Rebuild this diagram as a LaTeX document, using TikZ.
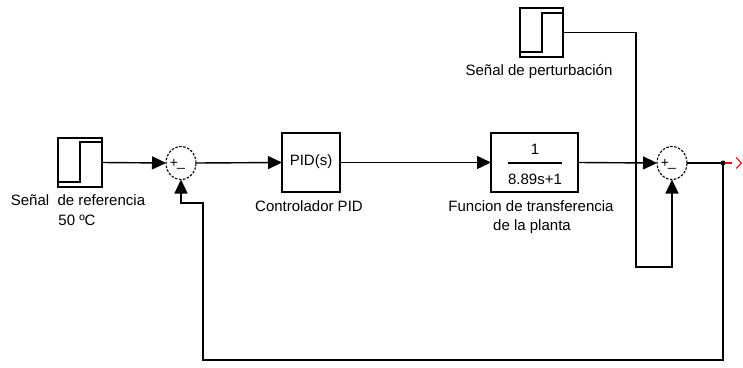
\documentclass[tikz,border=0pt]{standalone}
\usepackage{fontspec}
\setmainfont{Liberation Sans}
\usetikzlibrary{arrows.meta, shapes.geometric}
\tikzset{
	blk/.style={draw, line width=1.4pt, inner sep=0pt, outer sep=0pt},
	sumnode/.style={ellipse, draw, line width=1.1pt, dash pattern=on 2.5pt off 1.5pt, minimum width=30pt, minimum height=33pt, inner sep=0pt, outer sep=0pt},
	arr/.style={line width=1.4pt, -{Triangle[length=14pt, width=13pt]}},
	wire/.style={line width=1.4pt},
	lbl/.style={font=\fontsize{15}{18}\selectfont, inner sep=0pt},
	sgn/.style={font=\fontsize{14}{14}\selectfont, inner sep=0pt}
}
\begin{document}
\begin{tikzpicture}[x=1pt, y=-1pt]
	\useasboundingbox (0,0) rectangle (743,367);
	% bloques
	\node[blk, minimum width=44pt, minimum height=49pt] (ref) at (80,162.5) {};
	\node[blk, minimum width=43pt, minimum height=49pt] (pert) at (541.5,32.5) {};
	\node[blk, minimum width=58pt, minimum height=59pt] (pid) at (311,162.5) {};
	\node[blk, minimum width=87pt, minimum height=59pt] (tf) at (534.5,162.5) {};
	\node[sumnode] (sum1) at (181,163) {};
	\node[sumnode] (sum2) at (672,163) {};
	% escalones
	\draw[wire] (58,182)--(80,182)--(80,142)--(102,142);
	\draw[wire] (520,52)--(542,52)--(542,13)--(563,13);
	% textos
	\node[lbl] (pidtxt) at (311,162) {PID(s)};
	\node[lbl] (num) at (535,149) {1};
	\node[lbl] (den) at (535,179) {8.89s+1};
	\draw[wire] (508,163)--(562,163);
	\node[sgn] (p1) at (174,163) {+};
	\node[sgn] (m1) at (181,168) {\_};
	\node[sgn] (p2) at (665,163) {+};
	\node[sgn] (m2) at (672,168) {\_};
	\node[lbl] (reflbl) at (78,200) {Señal\ \ de referencia};
	\node[lbl] (reflbl2) at (77,220) {50 ºC};
	\node[lbl] (pertlbl) at (539,72) {Señal de perturbación};
	\node[lbl] (pidlbl) at (309,206) {Controlador PID};
	\node[lbl] (tflbl) at (531,206) {Funcion de transferencia};
	\node[lbl] (tflbl2) at (532,227) {de la planta};
	% conexiones
	\coordinate (out) at (723,163);
	\coordinate (outend) at (742,163);
	\coordinate (fb) at (723,360);
	\coordinate (fb2) at (203,203);
	\coordinate (pd) at (636,267);
	\draw[arr] (ref.east) -- (sum1.west);
	\draw[arr] (sum1.east) -- (pid.west);
	\draw[arr] (pid.east) -- (tf.west);
	\draw[arr] (tf.east) -- (sum2.west);
	\draw[wire] (sum2.east) -- (out);
	\fill (out) circle (2.5pt);
	\draw[arr] (pert.east) -| (pd) -| (sum2.south);
	\draw[arr] (out) -- (fb) -| (fb2) -| (sum1.south);
	\draw[red, line width=1.1pt, dash pattern=on 0pt off 2pt on 7pt off 20pt, -{Straight Barb[length=5pt, width=11pt]}] (out) -- (outend);
\end{tikzpicture}
\end{document}
